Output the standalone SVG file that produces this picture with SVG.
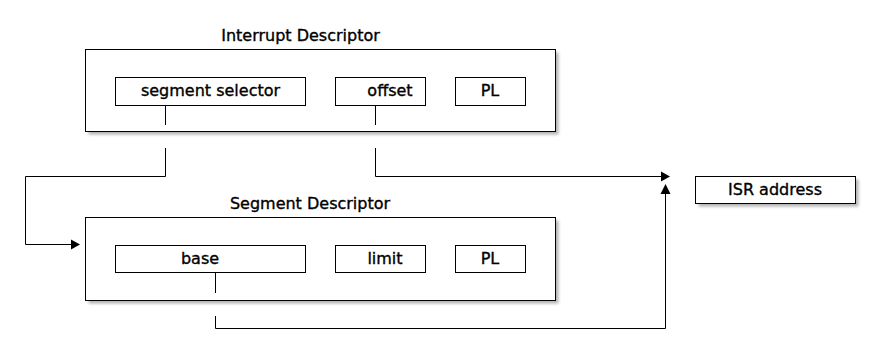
<svg xmlns="http://www.w3.org/2000/svg" width="880" height="364" viewBox="0 0 880 364">
<style>
.box{fill:#fff;stroke:#000;stroke-width:1}
.sh{fill:#000;opacity:0.3;filter:url(#blur)}
.t{font-family:"DejaVu Sans",sans-serif;font-size:16px;fill:#000;stroke:#000;stroke-width:0.35;text-anchor:middle}
.ln{fill:none;stroke:#000;stroke-width:1}
</style>
<defs>
<filter id="blur" x="-10%" y="-10%" width="120%" height="130%"><feGaussianBlur stdDeviation="1.5"/></filter>
</defs>
<rect width="880" height="364" fill="#fff"/>
<g id="interrupt-descriptor">
<text class="t" x="300.5" y="41">Interrupt Descriptor</text>
<rect class="sh" x="88.5" y="52.5" width="470" height="82"/>
<rect class="box" x="85.5" y="49.5" width="470" height="82"/>
<g id="segment-selector"><rect class="box" x="115.5" y="77.5" width="190" height="28"/><text class="t" x="210.5" y="96">segment selector</text></g>
<g id="offset"><rect class="box" x="335.5" y="77.5" width="90" height="28"/><text class="t" x="390" y="96">offset</text></g>
<g id="pl1"><rect class="box" x="455.5" y="77.5" width="70" height="28"/><text class="t" x="490" y="96">PL</text></g>
<path class="ln" d="M165.5 105.5V125M375.5 105.5V125"/>
</g>
<g id="segment-descriptor">
<text class="t" x="310" y="209">Segment Descriptor</text>
<rect class="sh" x="88.5" y="220.5" width="470" height="83"/>
<rect class="box" x="85.5" y="217.5" width="470" height="83"/>
<g id="base"><rect class="box" x="115.5" y="245.5" width="190" height="27"/><text class="t" x="200" y="264">base</text></g>
<g id="limit"><rect class="box" x="335.5" y="245.5" width="90" height="27"/><text class="t" x="385" y="264">limit</text></g>
<g id="pl2"><rect class="box" x="455.5" y="245.5" width="70" height="27"/><text class="t" x="490" y="264">PL</text></g>
<path class="ln" d="M215.5 272.5V293"/>
</g>
<g id="isr-address">
<rect class="sh" x="698.5" y="179.5" width="160" height="27"/>
<rect class="box" x="695.5" y="176.5" width="160" height="27"/>
<text class="t" x="775" y="195">ISR address</text>
</g>
<g id="connectors">
<path class="ln" d="M165.5 148V176.5H25.5V244.5H72"/>
<polygon points="80,244.5 71,239.5 71,249.5" fill="#000"/>
<path class="ln" d="M375.5 148V176.5H661"/>
<polygon points="670,176.5 661,171.5 661,181.5" fill="#000"/>
<path class="ln" d="M215.5 316V328.5H665.5V194"/>
<polygon points="665.5,184 660.5,194 670.5,194" fill="#000"/>
</g>
</svg>
